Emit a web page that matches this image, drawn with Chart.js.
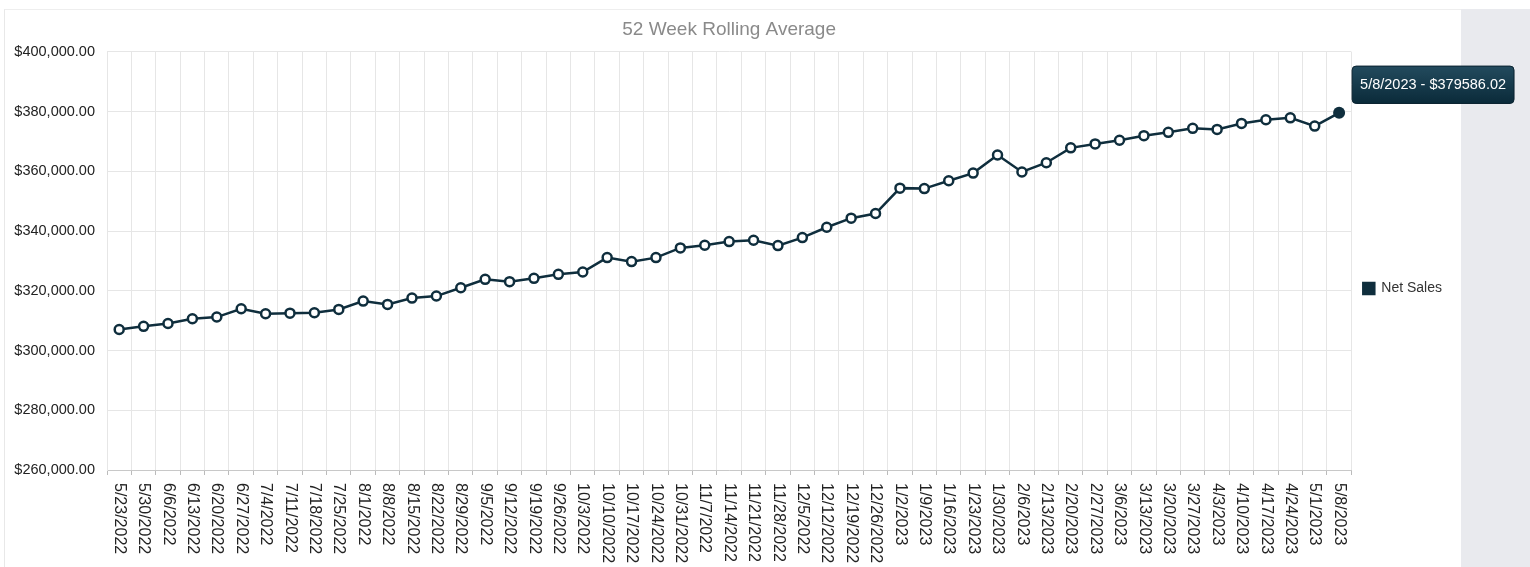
<!DOCTYPE html>
<html>
<head>
<meta charset="utf-8">
<script src="https://cdn.jsdelivr.net/npm/chart.js@4.4.1/dist/chart.umd.min.js"></script>
<style>
    body { margin: 0; background: #fff; width: 1530px; height: 567px; overflow: hidden; font-family: "Liberation Sans", Arial, sans-serif; }
    #wrap { position: absolute; left: 4px; top: 9px; width: 1457px; height: 558px; border-left: 1px solid #e8e8e8; border-top: 1px solid #eee; }
    #side { position: absolute; left: 1461px; top: 9px; width: 69px; height: 558px; background: #e9eaee; }
    #salesChart { position: absolute; left: 5px; top: 10px; z-index: 2; }
</style>
</head>
<body>
<div id="wrap"></div>
<div id="side"></div>
<canvas id="salesChart" width="1525" height="557"></canvas>
<script>
// weekly labels
const weeks = [
    '5/23/2022', '5/30/2022', '6/6/2022', '6/13/2022', '6/20/2022', '6/27/2022', '7/4/2022',
    '7/11/2022', '7/18/2022', '7/25/2022', '8/1/2022', '8/8/2022', '8/15/2022', '8/22/2022',
    '8/29/2022', '9/5/2022', '9/12/2022', '9/19/2022', '9/26/2022', '10/3/2022', '10/10/2022',
    '10/17/2022', '10/24/2022', '10/31/2022', '11/7/2022', '11/14/2022', '11/21/2022', '11/28/2022',
    '12/5/2022', '12/12/2022', '12/19/2022', '12/26/2022', '1/2/2023', '1/9/2023', '1/16/2023',
    '1/23/2023', '1/30/2023', '2/6/2023', '2/13/2023', '2/20/2023', '2/27/2023', '3/6/2023',
    '3/13/2023', '3/20/2023', '3/27/2023', '4/3/2023', '4/10/2023', '4/17/2023', '4/24/2023',
    '5/1/2023', '5/8/2023'
];

const netSales = [
    307050, 308100, 309060, 310630, 311200, 314000, 312300,
    312500, 312650, 313760, 316550, 315440, 317550, 318230,
    321030, 323830, 323040, 324160, 325500, 326280, 331100,
    329760, 331100, 334340, 335240, 336460, 336900, 335120,
    337800, 341270, 344300, 345860, 354360, 354200, 356820,
    359400, 365440, 359780, 362870, 367840, 369170, 370390,
    371930, 373040, 374370, 374030, 376020, 377240, 377900,
    375140, 379586.02
];

const yMin = 260000;
const yMax = 400000;
const yStep = 20000;

const lineColor = '#0f2e3d';
const gridColor = '#e6e6e6';
const fontFamily = '"Liberation Sans", Arial, sans-serif';

// tooltip sits up and to the right of the point
Chart.Tooltip.positioners.upRight = function (items) {
    if (!items.length) return false;
    const el = items[0].element;
    return { x: el.x + 13, y: el.y - 28, xAlign: 'left', yAlign: 'center' };
};

// x labels read top-to-bottom (rotated clockwise)
const downLabels = {
    id: 'downLabels',
    afterDraw(chart) {
        const xs = chart.scales.x;
        const c = chart.ctx;
        c.save();
        c.fillStyle = '#222';
        c.font = '16px ' + fontFamily;
        c.textAlign = 'left';
        c.textBaseline = 'middle';
        chart.data.labels.forEach((lbl, i) => {
            c.save();
            c.translate(xs.getPixelForTick(i), xs.top + 13);
            c.rotate(Math.PI / 2);
            c.fillText(lbl, 0, 0);
            c.restore();
        });
        c.restore();
    }
};

const ctx = document.getElementById('salesChart').getContext('2d');
const chart = new Chart(ctx, {
    type: 'line',
    data: {
        labels: weeks,
        datasets: [{
            label: 'Net Sales',
            data: netSales,
            borderColor: lineColor,
            backgroundColor: lineColor,
            borderWidth: 2.5,
            fill: false,
            tension: 0,
            pointRadius: 4.5,
            pointBorderWidth: 2.5,
            pointBackgroundColor: '#fff',
            pointBorderColor: lineColor,
            pointHoverRadius: 6,
            pointHoverBorderWidth: 0,
            pointHoverBackgroundColor: lineColor,
            pointHoverBorderColor: lineColor
        }]
    },
    options: {
        responsive: false,
        animation: false,
        events: [],
        layout: { padding: { left: 0, right: 78, top: 0, bottom: 0 } },
        scales: {
            x: {
                offset: true,
                grid: { offset: true, color: gridColor, tickColor: '#bbb', tickLength: 5 },
                border: { color: '#c8c8c8' },
                ticks: { display: false, autoSkip: false },
                afterFit: (scale) => { scale.height = 97; }
            },
            y: {
                min: yMin,
                max: yMax,
                grid: { color: gridColor, drawTicks: false },
                border: { color: gridColor },
                ticks: {
                    stepSize: yStep,
                    padding: 12,
                    color: '#222',
                    font: { family: fontFamily, size: 14.5 },
                    callback: v => '$' + v.toLocaleString('en-US', { minimumFractionDigits: 2, maximumFractionDigits: 2 })
                },
                afterFit: (scale) => { scale.width = 102; }
            }
        },
        plugins: {
            title: {
                display: true,
                text: '52 Week Rolling Average',
                fullSize: false,
                color: '#8a8a8a',
                font: { family: fontFamily, size: 19, weight: 'normal' },
                padding: { top: 8, bottom: 11 }
            },
            legend: {
                position: 'right',
                labels: {
                    boxWidth: 11,
                    boxHeight: 11,
                    padding: 12,
                    color: '#333',
                    font: { family: fontFamily, size: 14 }
                }
            },
            tooltip: {
                position: 'upRight',
                xAlign: 'left',
                yAlign: 'center',
                caretSize: 0,
                caretPadding: 0,
                displayColors: false,
                backgroundColor: '#163b4d',
                borderColor: '#0a2230',
                borderWidth: 1,
                cornerRadius: 4,
                padding: { x: 8, y: 10 },
                bodyColor: '#fff',
                bodyFont: { family: fontFamily, size: 14.5 },
                callbacks: {
                    title: () => '',
                    label: (item) => item.label + ' - $' + item.parsed.y.toFixed(2)
                }
            }
        }
    },
    plugins: [downLabels]
});

// show the last point highlighted with its tooltip
const last = [{ datasetIndex: 0, index: netSales.length - 1 }];
chart.setActiveElements(last);
chart.tooltip.setActiveElements(last, { x: 0, y: 0 });
chart.update();

// darker-at-the-bottom tooltip fill, like the original
const pt = chart.getDatasetMeta(0).data[netSales.length - 1];
const grad = ctx.createLinearGradient(0, pt.y - 47, 0, pt.y - 9);
grad.addColorStop(0, '#234b5e');
grad.addColorStop(1, '#0a2a39');
chart.options.plugins.tooltip.backgroundColor = grad;
chart.update();
</script>
</body>
</html>
